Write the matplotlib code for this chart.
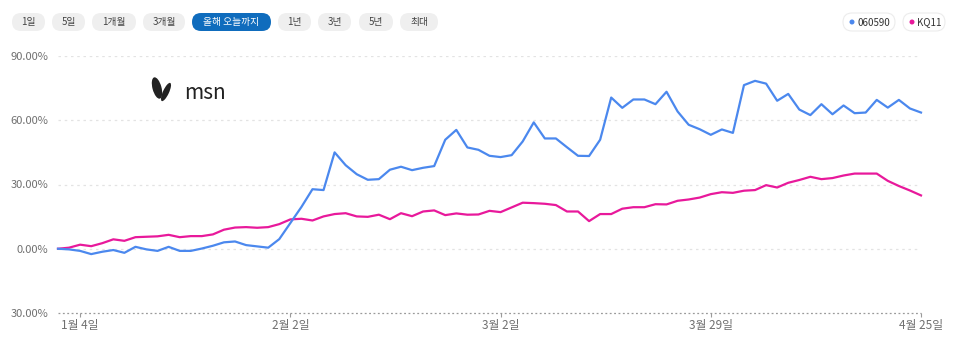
import matplotlib
matplotlib.use("Agg")
import matplotlib.pyplot as plt
import matplotlib.transforms as mtransforms
from matplotlib.patches import FancyBboxPatch, Ellipse
import numpy as np

plt.rcParams['font.family'] = ['Noto Sans CJK KR', 'DejaVu Sans']

# 2023-01-02 .. 2023-04-25, KRX trading days (79), % change since start
stock = [0, -0.3, -1, -2.5, -1.4, -0.6, -1.9, 0.9, -0.3, -1,
         0.9, -1, -1, 0.1, 1.4, 3, 3.4, 1.7, 1.1, 0.5,
         4.5, 12, 19.5, 27.8, 27.4, 45, 39, 34.8, 32.2, 32.5,
         36.9, 38.3, 36.7, 37.8, 38.6, 50.9, 55.5, 47.3, 46.2, 43.4,
         42.8, 43.7, 50.1, 59, 51.5, 51.5, 47.4, 43.4, 43.3, 50.9,
         70.6, 65.8, 69.7, 69.7, 67.5, 73.3, 64.1, 57.9, 55.8, 53.2,
         55.7, 54.1, 76.4, 78.4, 77.1, 69.1, 72.3, 65, 62.4, 67.5,
         62.8, 66.9, 63.3, 63.6, 69.5, 65.9, 69.5, 65.5, 63.6]
kosdaq = [0, 0.5, 1.9, 1.2, 2.6, 4.4, 3.7, 5.4, 5.6, 5.8,
          6.5, 5.4, 5.9, 5.9, 6.7, 8.9, 9.9, 10.1, 9.8, 10.1,
          11.5, 13.7, 14, 13.2, 15.1, 16.2, 16.6, 15.1, 14.9, 15.9,
          13.8, 16.6, 15.2, 17.4, 17.9, 15.7, 16.5, 15.9, 16, 17.7,
          17.1, 19.3, 21.5, 21.3, 21, 20.4, 17.4, 17.4, 12.9, 16.2,
          16.2, 18.7, 19.4, 19.4, 20.8, 20.7, 22.4, 23, 23.9, 25.5,
          26.4, 26.1, 27.1, 27.4, 29.7, 28.6, 30.8, 32.1, 33.6, 32.5,
          33, 34.2, 35.1, 35.1, 35.1, 31.7, 29.3, 27.2, 24.9]

xtick_idx = [2, 21, 40, 59, 78]
xtick_labels = ["1월 4일", "2월 2일", "3월 2일", "3월 29일", "4월 25일"]
ytick_vals = [90, 60, 30, 0, -30]
ytick_labels = ["90.00%", "60.00%", "30.00%", "0.00%", "30.00%"]
ranges = ["1일", "5일", "1개월", "3개월", "올해 오늘까지", "1년", "3년", "5년", "최대"]
series_names = ["060590", "KQ11"]

W, H = 960, 348
fig = plt.figure(figsize=(W / 100, H / 100), dpi=100)
ax = fig.add_axes([58 / W, 1 - 313 / H, (921 - 58) / W, (313 - 56) / H])

x = np.arange(len(stock))
blue = "#4b88ee"
pink = "#e8199b"
ax.plot(x, kosdaq, color=pink, lw=1.6, clip_on=False, zorder=3)
ax.plot(x, stock, color=blue, lw=1.6, clip_on=False, zorder=4)

ax.set_xlim(0, len(stock) - 1)
ax.set_ylim(-30, 90)
for v in ytick_vals[:-1]:
    ax.axhline(v, color="#e3e3e3", lw=0.9, ls=(0, (2, 3)), zorder=1)
ax.axhline(-30, color="#9a9a9a", lw=0.9, ls=(0, (1.5, 2)), zorder=2, clip_on=False)
for s in ax.spines.values():
    s.set_visible(False)

ax.set_yticks(ytick_vals)
ax.set_yticklabels(ytick_labels)
ax.set_xticks(xtick_idx)
ax.set_xticklabels(xtick_labels)
ax.tick_params(axis="y", length=0, pad=7, labelsize=8, labelcolor="#707070")
ax.tick_params(axis="x", length=3, width=0.8, color="#9a9a9a", pad=1,
               labelsize=8.5, labelcolor="#707070")

px = mtransforms.IdentityTransform()


def pill(x0, x1, y0, y1, face, edge="none"):
    p = FancyBboxPatch((x0, H - y1), x1 - x0, y1 - y0,
                       boxstyle="round,pad=0,rounding_size=9",
                       transform=px, facecolor=face, edgecolor=edge, lw=0.8)
    fig.patches.append(p)


# range buttons
btn_x = [(12, 45), (52, 85), (92, 136), (143, 185), (192, 271),
         (278, 311), (318, 351), (359, 393), (400, 438)]
for (x0, x1), lab in zip(btn_x, ranges):
    sel = lab == "올해 오늘까지"
    pill(x0, x1, 13, 31, "#0f6cbd" if sel else "#efefef")
    fig.text((x0 + x1) / 2 / W, 1 - 22.5 / H, lab, ha="center", va="center",
             fontsize=7, color="white" if sel else "#444444")

# legend chips
leg = [(843, 895, blue), (903, 945, pink)]
for (x0, x1, c), name in zip(leg, series_names):
    pill(x0, x1, 13, 31, "white", "#ececec")
    fig.patches.append(Ellipse((x0 + 9, H - 22), 5, 5, transform=px,
                               facecolor=c, edgecolor="none"))
    fig.text((x0 + 14) / W, 1 - 22.5 / H, name, ha="left", va="center",
             fontsize=7, color="#333333")

# msn logo
fig.patches.append(Ellipse((157, H - 88), 9, 22, angle=15, transform=px,
                           facecolor="#222222"))
fig.patches.append(Ellipse((166, H - 92), 6, 20, angle=-25, transform=px,
                           facecolor="#222222"))
fig.text(184 / W, 1 - 93 / H, "msn", ha="left", va="center",
         fontsize=15, color="#222222")

fig.savefig("out.png", dpi=100)
